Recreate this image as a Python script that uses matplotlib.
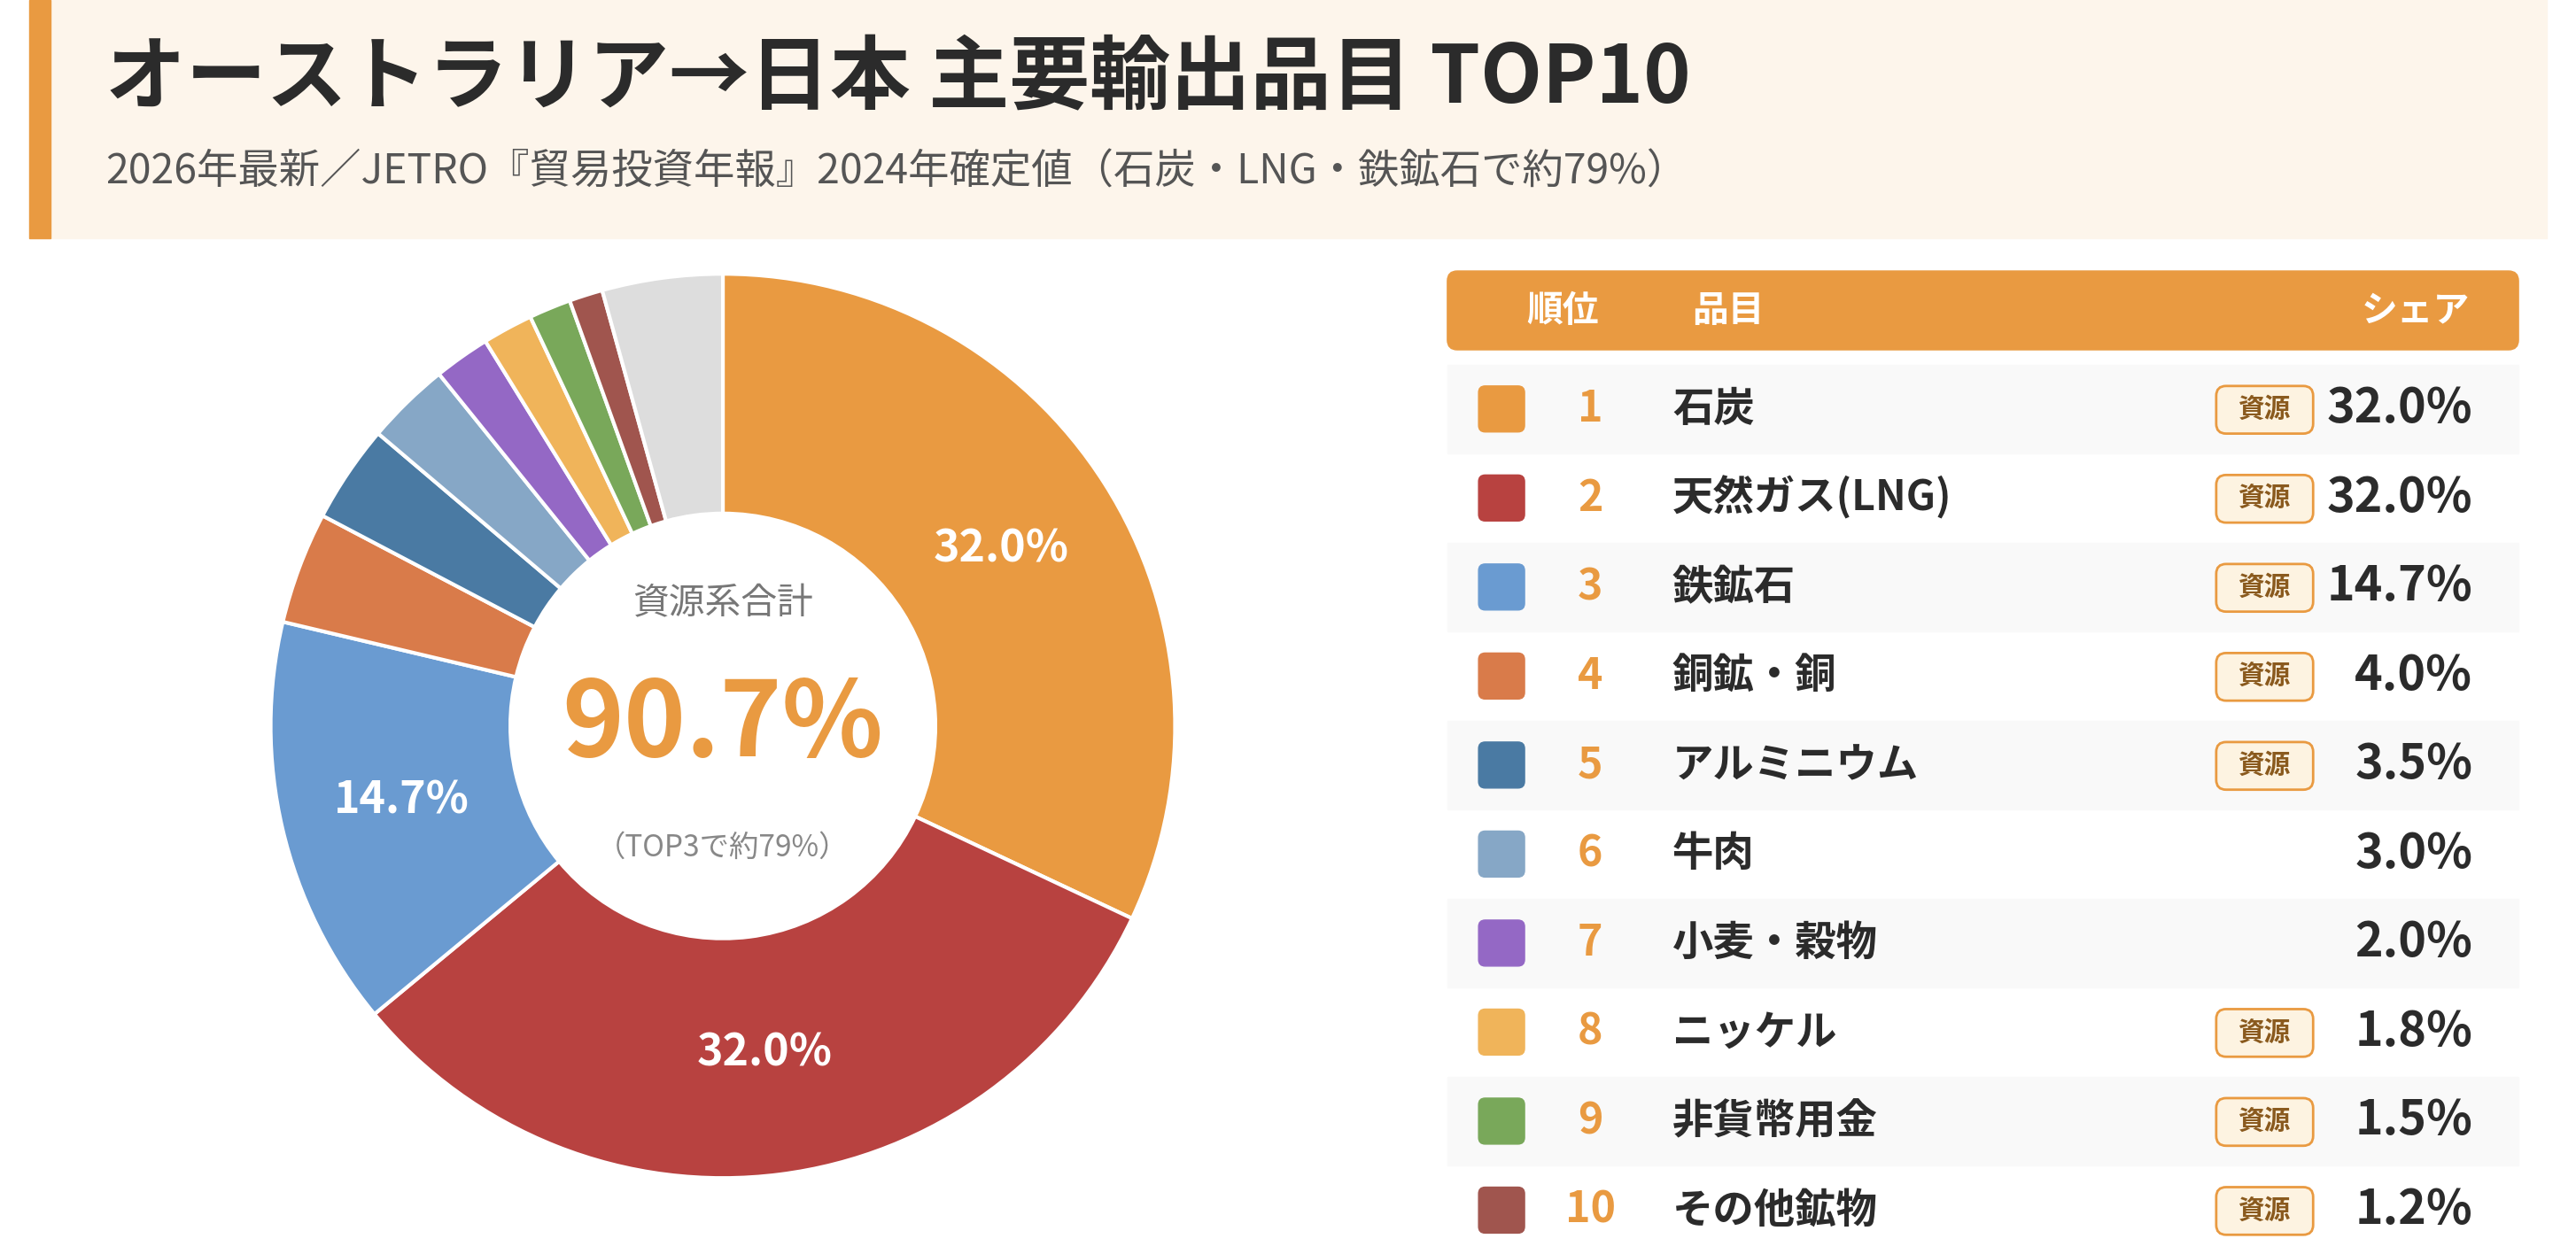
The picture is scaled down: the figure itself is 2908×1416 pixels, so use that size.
import matplotlib.pyplot as plt
import numpy as np
from matplotlib.patches import Rectangle, FancyBboxPatch

plt.rcParams['font.family'] = ['Noto Sans CJK JP', 'DejaVu Sans']

items = ['石炭', '天然ガス(LNG)', '鉄鉱石', '銅鉱・銅', 'アルミニウム', '牛肉', '小麦・穀物', 'ニッケル', '非貨幣用金', 'その他鉱物']
shares = [32.0, 32.0, 14.7, 4.0, 3.5, 3.0, 2.0, 1.8, 1.5, 1.2]
resource = [True, True, True, True, True, False, False, True, True, True]
colors = ['#E99A41', '#B84240', '#6A9BD1', '#D97B4A', '#4A7AA3', '#86A7C6', '#9468C5', '#F0B45A', '#79A85A', '#A0554E']
other_share = 100 - sum(shares)
other_color = '#DDDDDD'

W, H = 2908, 1416
S = W / 1568  # layout drawn in reference display units
fig = plt.figure(figsize=(W / 100, H / 100), dpi=100)
ax = fig.add_axes([0, 0, 1, 1])
ax.set_xlim(0, 1568)
ax.set_ylim(H / S, 0)
ax.axis('off')

def fs(px):
    return px * S * 0.72

# header banner
ax.add_patch(Rectangle((18, 0), 1532, 145, color='#FDF5EB', zorder=0))
ax.add_patch(Rectangle((18, 0), 13, 145, color='#E99A41', zorder=1))
ax.text(64, 48, 'オーストラリア→日本 主要輸出品目 TOP10', fontsize=fs(49), fontweight='bold',
        color='#2B2B2B', va='center')
ax.text(64, 105, '2026年最新／JETRO『貿易投資年報』2024年確定値（石炭・LNG・鉄鉱石で約79%）',
        fontsize=fs(25), color='#555555', va='center')

# donut
cx, cy, r = 440, 442, 278
pax = fig.add_axes([(cx - r) / 1568, 1 - (cy + r) * S / H, 2 * r / 1568, 2 * r * S / H])
vals = shares + [other_share]
pax.pie(vals, colors=colors + [other_color], startangle=90, counterclock=False,
        wedgeprops=dict(width=0.53, edgecolor='white', linewidth=3))
pax.set_xlim(-1.01, 1.01)
pax.set_ylim(-1.01, 1.01)
pax.set_aspect('equal')
ang = 90
for v in vals[:3]:
    mid = np.deg2rad(ang - v * 3.6 / 2)
    pax.text(0.73 * np.cos(mid), 0.73 * np.sin(mid), f'{v:.1f}%', ha='center', va='center',
             color='white', fontsize=fs(27), fontweight='bold')
    ang -= v * 3.6
pax.text(0, 0.27, '資源系合計', ha='center', va='center', fontsize=fs(22), color='#777777')
res_total = sum(s for s, rflag in zip(shares, resource) if rflag)
pax.text(0, 0.0, f'{res_total:.1f}%', ha='center', va='center', fontsize=fs(64), fontweight='bold', color='#E99A41')
pax.text(0, -0.27, '（TOP3で約79%）', ha='center', va='center', fontsize=fs(18), color='#888888')

# table
x0, x1 = 881, 1533
ax.add_patch(FancyBboxPatch((x0, 165), x1 - x0, 48, boxstyle='round,pad=0,rounding_size=6',
                            color='#E99A41'))
ax.text(951, 189, '順位', ha='center', va='center', fontsize=fs(22), fontweight='bold', color='white')
ax.text(1030, 189, '品目', va='center', fontsize=fs(22), fontweight='bold', color='white')
ax.text(1503, 189, 'シェア', ha='right', va='center', fontsize=fs(22), fontweight='bold', color='white')

row_h = 54.2
for i, (name, s, rf, c) in enumerate(zip(items, shares, resource, colors)):
    yc = 249 + i * row_h
    if i % 2 == 0:
        ax.add_patch(Rectangle((x0, yc - row_h / 2), x1 - x0, row_h, color='#F9F9F9', zorder=0))
    ax.add_patch(FancyBboxPatch((900, yc - 14), 28, 28, boxstyle='round,pad=0,rounding_size=4', color=c))
    ax.text(968, yc, str(i + 1), ha='center', va='center', fontsize=fs(26), fontweight='bold', color='#E99A41')
    ax.text(1018, yc, name, va='center', fontsize=fs(25), fontweight='bold', color='#2B2B2B')
    if rf:
        ax.add_patch(FancyBboxPatch((1349, yc - 14), 59, 29, boxstyle='round,pad=0,rounding_size=6',
                                    facecolor='#FDF3E1', edgecolor='#E99A41', linewidth=2))
        ax.text(1378.5, yc, '資源', ha='center', va='center', fontsize=fs(16), fontweight='bold', color='#8A5A1E')
    ax.text(1505, yc, f'{s:.1f}%', ha='right', va='center', fontsize=fs(29), fontweight='bold', color='#2B2B2B')

fig.savefig('out.png', dpi=100, facecolor='white')
